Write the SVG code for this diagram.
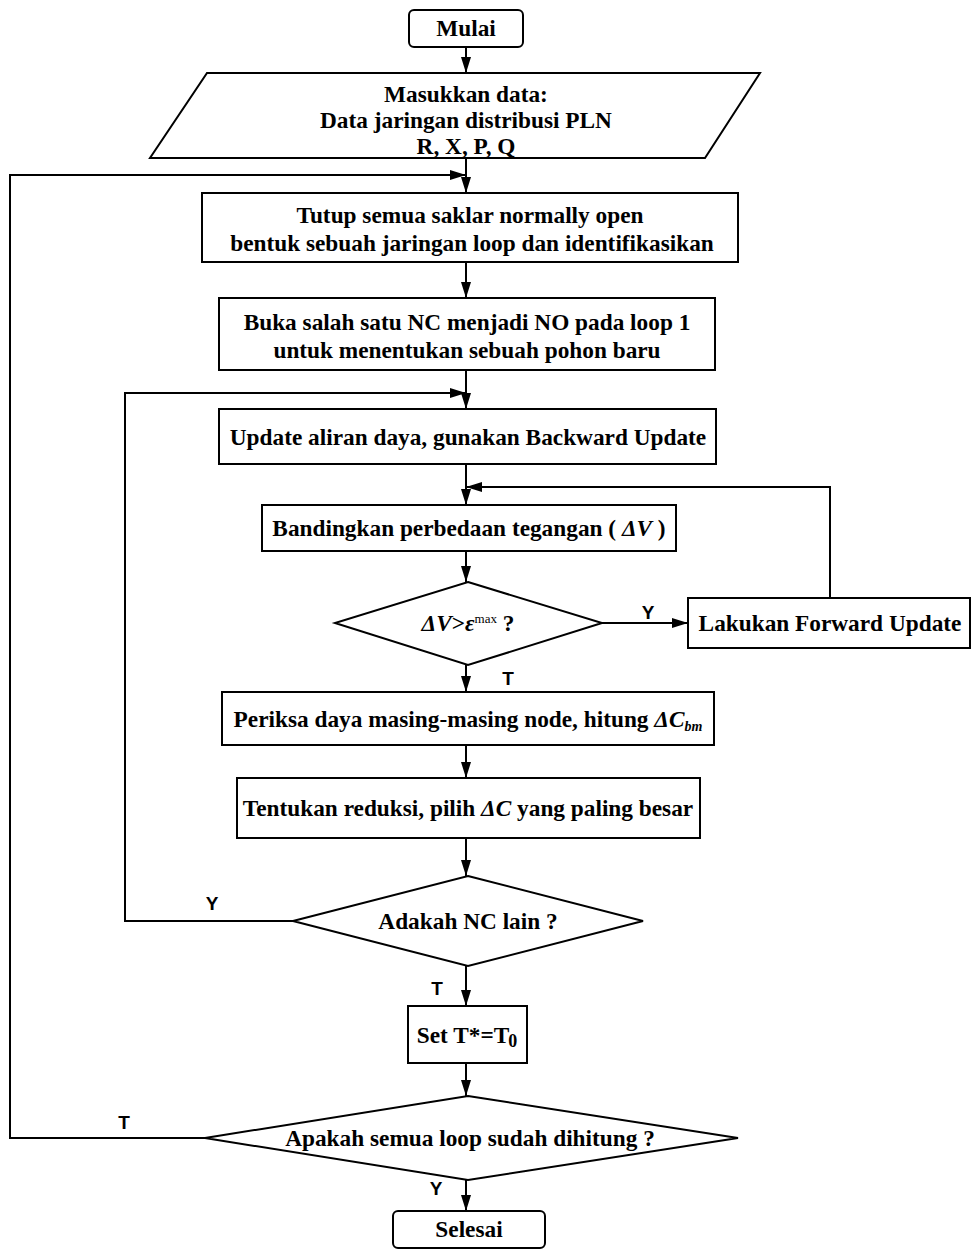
<svg xmlns="http://www.w3.org/2000/svg" width="972" height="1250" viewBox="0 0 972 1250">
<style>
.n{fill:#fff;stroke:#000;stroke-width:2}
.t{font-family:"Liberation Serif","Times New Roman",serif;font-weight:bold;font-size:23.3px;text-anchor:middle;fill:#000}
.l{font-family:"Liberation Sans",Arial,sans-serif;font-weight:bold;font-size:19px;text-anchor:middle;fill:#000}
.c{fill:none;stroke:#000;stroke-width:2}
.i{font-style:italic}
</style>
<defs>
<marker id="a" viewBox="0 0 16 10" refX="16" refY="5" markerWidth="16" markerHeight="10" markerUnits="userSpaceOnUse" orient="auto">
<path d="M0,0 L16,5 L0,10 z" fill="#000"/>
</marker>
</defs>
<rect width="972" height="1250" fill="#fff"/>
<g id="connectors">
<path class="c" d="M466,47 V73" marker-end="url(#a)"/>
<path class="c" d="M466,158 V193" marker-end="url(#a)"/>
<path class="c" d="M205,1138 H10 V175 H466" marker-end="url(#a)"/>
<path class="c" d="M466,262 V298" marker-end="url(#a)"/>
<path class="c" d="M466,370 V409" marker-end="url(#a)"/>
<path class="c" d="M293,921 H125 V393 H466" marker-end="url(#a)"/>
<path class="c" d="M466,464 V505" marker-end="url(#a)"/>
<path class="c" d="M830,598 V487 H466" marker-end="url(#a)"/>
<path class="c" d="M466,551 V582" marker-end="url(#a)"/>
<path class="c" d="M602,623 H688" marker-end="url(#a)"/>
<path class="c" d="M466,665 V692" marker-end="url(#a)"/>
<path class="c" d="M466,745 V778" marker-end="url(#a)"/>
<path class="c" d="M466,838 V876" marker-end="url(#a)"/>
<path class="c" d="M466,966 V1006" marker-end="url(#a)"/>
<path class="c" d="M466,1063 V1096" marker-end="url(#a)"/>
<path class="c" d="M466,1180 V1211" marker-end="url(#a)"/>
<text class="l" x="648" y="619">Y</text>
<text class="l" x="508" y="685">T</text>
<text class="l" x="212" y="910">Y</text>
<text class="l" x="437" y="995">T</text>
<text class="l" x="124" y="1129">T</text>
<text class="l" x="436" y="1195">Y</text>
</g>
<g id="mulai">
<rect class="n" x="409" y="10" width="114" height="37" rx="5"/>
<text class="t" x="466" y="36" font-size="21">Mulai</text>
</g>
<g id="input">
<polygon class="n" points="207,73 760,73 705,158 150,158"/>
<text class="t" x="466" y="102">Masukkan data:</text>
<text class="t" x="466" y="128">Data jaringan distribusi PLN</text>
<text class="t" x="466" y="154">R, X, P, Q</text>
</g>
<g id="tutup">
<rect class="n" x="202" y="193" width="536" height="69"/>
<text class="t" x="470" y="223">Tutup semua saklar normally open</text>
<text class="t" x="472" y="251">bentuk sebuah jaringan loop dan identifikasikan</text>
</g>
<g id="buka">
<rect class="n" x="219" y="298" width="496" height="72"/>
<text class="t" x="467" y="330">Buka salah satu NC menjadi NO pada loop 1</text>
<text class="t" x="467" y="358">untuk menentukan sebuah pohon baru</text>
</g>
<g id="update">
<rect class="n" x="219" y="409" width="497" height="55"/>
<text class="t" x="468" y="445">Update aliran daya, gunakan Backward Update</text>
</g>
<g id="bandingkan">
<rect class="n" x="262" y="505" width="414" height="46"/>
<text class="t" x="469" y="536">Bandingkan perbedaan tegangan ( <tspan class="i">ΔV</tspan> )</text>
</g>
<g id="cek-dv">
<polygon class="n" points="468,582 602,623 468,665 335,623"/>
<text class="t" x="468" y="631"><tspan class="i">ΔV</tspan>&gt;<tspan class="i">ε</tspan><tspan font-size="13" dy="-8" font-weight="normal">max</tspan><tspan dy="8"> ?</tspan></text>
</g>
<g id="forward">
<rect class="n" x="688" y="598" width="282" height="50"/>
<text class="t" x="830" y="631">Lakukan Forward Update</text>
</g>
<g id="periksa">
<rect class="n" x="222" y="692" width="492" height="53"/>
<text class="t" x="468" y="727">Periksa daya masing-masing node, hitung <tspan class="i">ΔC</tspan><tspan class="i" font-size="14" dy="4">bm</tspan></text>
</g>
<g id="tentukan">
<rect class="n" x="237" y="778" width="463" height="60"/>
<text class="t" x="468" y="816">Tentukan reduksi, pilih <tspan class="i">ΔC</tspan> yang paling besar</text>
</g>
<g id="cek-nc">
<polygon class="n" points="468,876 643,921 468,966 293,921"/>
<text class="t" x="468" y="929">Adakah NC lain ?</text>
</g>
<g id="set">
<rect class="n" x="408" y="1006" width="119" height="57"/>
<text class="t" x="467" y="1043">Set T*=T<tspan font-size="18" dx="-1" dy="4">0</tspan></text>
</g>
<g id="cek-loop">
<polygon class="n" points="468,1096 738,1138 468,1180 205,1138"/>
<text class="t" x="470" y="1146">Apakah semua loop sudah dihitung ?</text>
</g>
<g id="selesai">
<rect class="n" x="393" y="1211" width="152" height="37" rx="5"/>
<text class="t" x="469" y="1237" font-size="21">Selesai</text>
</g>
</svg>
